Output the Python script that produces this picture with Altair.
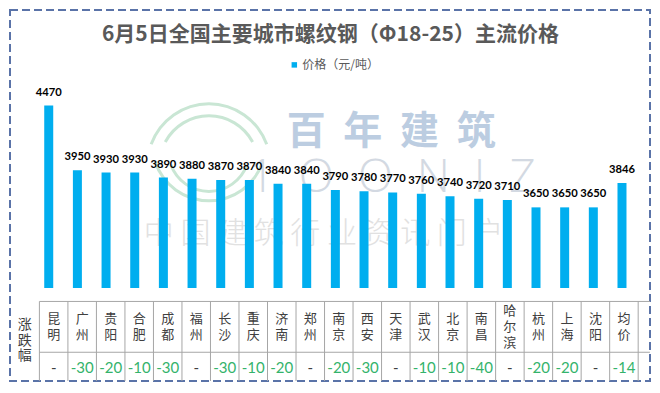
import altair as alt
import pandas as pd
import math

# ---------------- data ----------------
cities = ["昆明", "广州", "贵阳", "合肥", "成都", "福州", "长沙", "重庆", "济南", "郑州",
          "南京", "西安", "天津", "武汉", "北京", "南昌", "哈尔滨", "杭州", "上海", "沈阳", "均价"]
prices = [4470, 3950, 3930, 3930, 3890, 3880, 3870, 3870, 3840, 3840,
          3790, 3780, 3770, 3760, 3740, 3720, 3710, 3650, 3650, 3650, 3846]
changes = [0, -30, -20, -10, -30, 0, -30, -10, -20, 0,
           -20, -30, 0, -10, -10, -40, 0, -20, -20, 0, -14]
series_name = "价格（元/吨）"
title_text = "6月5日全国主要城市螺纹钢（Φ18-25）主流价格"
row_header = "涨跌幅"
wm_cn = "百年建筑"
wm_en = "1OONIZ"
wm_sub = "中国建筑行业资讯门户"

# ---------------- layout helpers (reference px -> view px) ----------------
W, H = 640, 371
def fx(rx):
    return (rx - 2) * 0.980
def fy(ry):
    return (ry - 3) * 0.9587

BLUE = "#00AEEF"
GREEN = "#34b36b"
GRID = "#a6a6a6"
TXT = "#404040"
NB = "\u00a0"

LH_NAME = 16.3
NAME_CENTER = fy(333.5)

df = pd.DataFrame({
    "city": cities,
    "price": prices,
    "change": changes,
    "series": [series_name] * len(cities),
})
df["idx"] = range(len(cities))
df["mid"] = df["idx"] + 0.5
df["name_v"] = ["\n".join(list(c)) for c in cities]
df["nchar"] = [len(c) for c in cities]
df["chg_txt"] = ["-" if c == 0 else str(c) for c in changes]

bounds = pd.DataFrame({"b": list(range(len(cities) + 1))})
one = pd.DataFrame({"k": [0]})

xb = alt.X("city:N", sort=cities, axis=None,
           scale=alt.Scale(range=[fx(26.9), fx(641.1)], paddingInner=0, paddingOuter=0))
yb = alt.Y("price:Q", axis=None,
           scale=alt.Scale(domain=[3000, 4600], range=[fy(293), fy(85.9)], zero=False, nice=False))
xt_scale = alt.Scale(domain=[0, len(cities)], range=[fx(32), fx(643)], nice=False, zero=False)

# ---------------- watermark ----------------
wm_df = pd.DataFrame({
    "t": [(NB * 2).join(list(wm_cn)), (NB * 2).join(list(wm_en)), NB.join(list(wm_sub))],
    "x": [fx(391), fx(392), fx(322)],
    "y": [fy(130), fy(178), fy(237)],
})
wm1 = alt.Chart(wm_df.iloc[[0]]).mark_text(
    font="Noto Sans CJK SC", fontWeight="bold", fontSize=39, color="#bccde1",
    baseline="middle", align="center"
).encode(x=alt.X("x:Q", scale=None), y=alt.Y("y:Q", scale=None), text="t:N")
wm2 = alt.Chart(wm_df.iloc[[1]]).mark_text(
    font="Open Sans", fontWeight=300, fontSize=46, color="#d3d9e2",
    baseline="middle", align="center"
).encode(x=alt.X("x:Q", scale=None), y=alt.Y("y:Q", scale=None), text="t:N")
wm3 = alt.Chart(wm_df.iloc[[2]]).mark_text(
    font="Noto Sans CJK SC", fontWeight=300, fontSize=30, color="#e1e1e1",
    baseline="middle", align="center"
).encode(x=alt.X("x:Q", scale=None), y=alt.Y("y:Q", scale=None), text="t:N")

arcs = pd.DataFrame({
    "cx": [fx(205), fx(205), fx(205), fx(205)],
    "cy": [fy(165), fy(165), fy(143), fy(150)],
    "r": [63, 51, 58, 42],
    "t1": [math.radians(-70), math.radians(-62), math.radians(108), math.radians(110)],
    "t2": [math.radians(70), math.radians(62), math.radians(252), math.radians(250)],
})
arcs["r2"] = arcs["r"] - 3
logo = alt.Chart(arcs).mark_arc(color="#c9e6d4").encode(
    x=alt.X("cx:Q", scale=None), y=alt.Y("cy:Q", scale=None),
    theta=alt.Theta("t1:Q", scale=None), theta2="t2:Q",
    radius=alt.Radius("r:Q", scale=None), radius2="r2:Q",
)

# ---------------- title ----------------
title = alt.Chart(one).mark_text(
    text=title_text, font="Noto Sans CJK SC", fontWeight="bold", fontSize=21,
    color="#595959", align="center", baseline="middle"
).encode(x=alt.value(fx(329)), y=alt.value(fy(29)))

# ---------------- bars + labels ----------------
bars = alt.Chart(df).mark_bar(size=9).encode(
    x=xb, y=yb, y2=alt.datum(3000),
    color=alt.Color("series:N", scale=alt.Scale(range=[BLUE]),
                    legend=alt.Legend(orient="none", legendX=fx(286), legendY=fy(54),
                                      title=None, symbolType="square", symbolSize=30,
                                      symbolStrokeWidth=0, labelFont="Noto Sans CJK SC",
                                      labelFontSize=12, labelColor="#595959", labelOffset=2)),
)
labels = alt.Chart(df).mark_text(
    font="Lato", fontWeight="bold", fontSize=11.2, color="#000000",
    baseline="alphabetic", dy=-10
).encode(x=xb, y=yb, text="price:Q")

# ---------------- table ----------------
hlines = pd.DataFrame({"yy": [fy(307), fy(360)]})
hrules = alt.Chart(hlines).mark_rule(color=GRID, strokeWidth=1).encode(
    y=alt.Y("yy:Q", scale=None), x=alt.value(fx(32)), x2=alt.value(fx(655)))
vrules = alt.Chart(bounds).mark_rule(color=GRID, strokeWidth=1).encode(
    x=alt.X("b:Q", scale=xt_scale, axis=None), y=alt.value(fy(307)), y2=alt.value(H))

names = alt.Chart(df).transform_calculate(
    ny=f"{NAME_CENTER} - (datum.nchar - 1) * {LH_NAME} / 2"
).mark_text(
    font="Noto Sans CJK SC", fontSize=13, color=TXT, lineBreak="\n",
    lineHeight=LH_NAME, baseline="middle", align="center"
).encode(x=alt.X("mid:Q", scale=xt_scale, axis=None),
         y=alt.Y("ny:Q", scale=None), text="name_v:N")

vals = alt.Chart(df).mark_text(
    font="Lato", fontSize=15, baseline="middle", align="center"
).encode(
    x=alt.X("mid:Q", scale=xt_scale, axis=None), y=alt.value(fy(376)), text="chg_txt:N",
    color=alt.condition("datum.change < 0", alt.value(GREEN), alt.value(TXT)),
)

header = alt.Chart(one).mark_text(
    text="\n".join(list(row_header)), lineBreak="\n", lineHeight=15.5,
    font="Noto Sans CJK SC", fontSize=14, color=TXT, baseline="middle", align="center"
).encode(x=alt.value(fx(17)), y=alt.value(fy(332)))

chart = alt.layer(
    logo, wm1, wm2, wm3, title, bars, labels, hrules, vrules, names, vals, header
).resolve_scale(x="independent", y="independent").properties(
    width=W, height=H,
    autosize=alt.AutoSizeParams(type="none"),
    padding={"left": 2, "top": 2, "right": 2, "bottom": 2},
    background="white",
).configure_view(
    stroke="#5a73a8", strokeDash=[8, 4], strokeWidth=2
)

chart.save("out.html", embed_options={"renderer": "svg", "actions": False})
